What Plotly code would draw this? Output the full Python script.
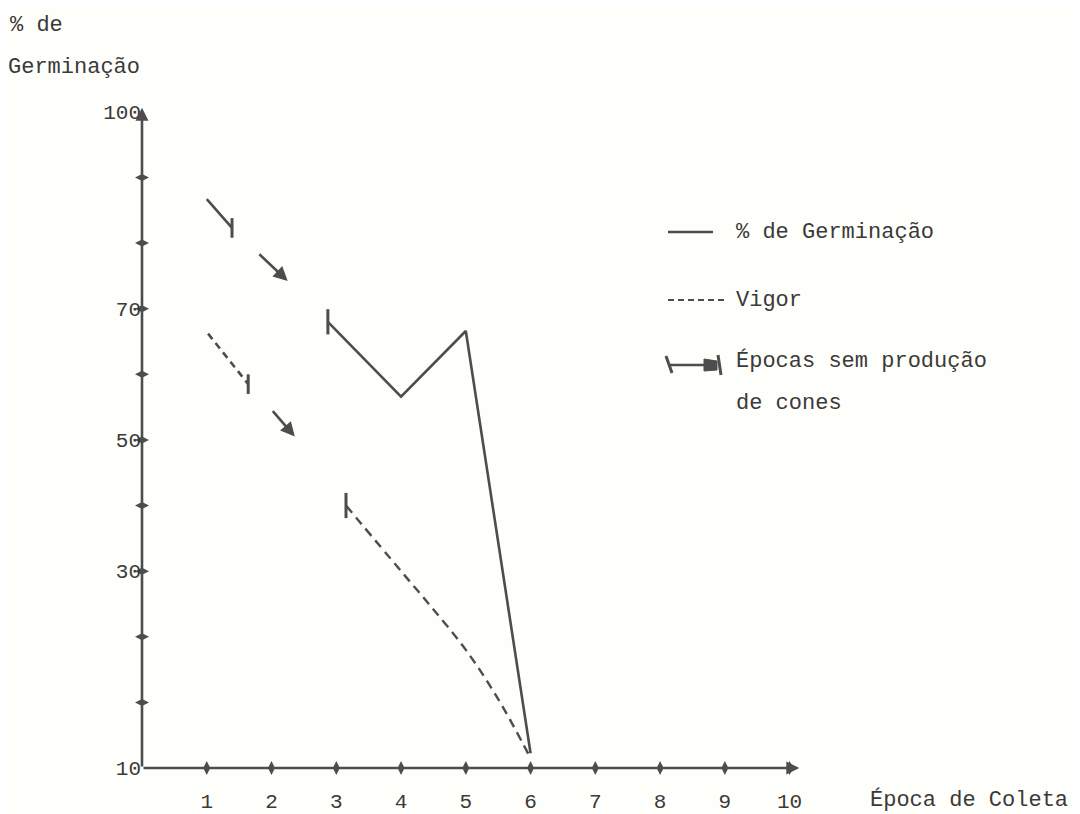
import numpy as np
import plotly.graph_objects as go

# ---------------- data ----------------
# y-axis of the original is not linear: tick label values and their tick index
y_tick_values = [10, 30, 50, 70, 100]
y_tick_index = [0, 3, 5, 7, 10]
y_tick_text = ["10", "30", "50", "70", "100"]

x_ticks = [1, 2, 3, 4, 5, 6, 7, 8, 9, 10]

# % de Germinação (solid line)
germ_epoca = [2.87, 4, 5, 6]
germ_pct = [68, 56.6, 66.6, 11.5]

# Vigor (dashed line)
vigor_epoca = [3.15, 4, 4.45, 5, 5.5, 6]
vigor_pct = [40, 30, 26.5, 22, 17, 11]

# Épocas sem produção de cones : break segments (start -> end)
germ_gap_x0 = [1.0, 1.79]
germ_gap_y0 = [86.7, 78.5]
germ_gap_x1 = [1.39, 2.25]
germ_gap_y1 = [82.3, 74.2]

vigor_gap_x0 = [1.02, 2.0]
vigor_gap_y0 = [66.2, 54.6]
vigor_gap_x1 = [1.64, 2.36]
vigor_gap_y1 = [58.5, 50.5]


def ypos(v):
    return np.interp(v, y_tick_values, y_tick_index)


# ---------------- layout constants ----------------
# page body has an 8px margin at top/left
W, H = 1072, 814
ML, MR, MT, MB = 134, 258, 71, 54
PW, PH = W - ML - MR, H - MT - MB
INK = "#4d4d4d"
TXT = "#3a3a3a"
FONT = "Liberation Mono"
BG = "#fefefa"

# screen-pixel helpers (screen coords of the 1080x814 window)
SX0, SY0 = 142, 768  # screen position of plot-area origin


def PX(x):
    return (x - SX0) / PW


def PY(y):
    return (SY0 - y) / PH


fig = go.Figure()

# main lines
fig.add_trace(go.Scatter(x=germ_epoca, y=ypos(germ_pct), mode="lines",
                         line=dict(color=INK, width=2.6), showlegend=False,
                         hoverinfo="skip"))
fig.add_trace(go.Scatter(x=vigor_epoca, y=ypos(vigor_pct), mode="lines",
                         line=dict(color=INK, width=2.4, dash="9px,6px"),
                         showlegend=False, hoverinfo="skip", line_shape="spline"))

# start bars of lines
fig.add_trace(go.Scatter(x=[germ_epoca[0], vigor_epoca[0]],
                         y=ypos([germ_pct[0], vigor_pct[0]]), mode="markers",
                         marker=dict(symbol="line-ns", size=18,
                                     line=dict(color=INK, width=3)),
                         showlegend=False, hoverinfo="skip"))

# break segments: first segment of each ends with bar, second with arrowhead
fig.add_trace(go.Scatter(x=[germ_gap_x0[0], germ_gap_x1[0]],
                         y=ypos([germ_gap_y0[0], germ_gap_y1[0]]), mode="lines",
                         line=dict(color=INK, width=2.6), showlegend=False,
                         hoverinfo="skip"))
fig.add_trace(go.Scatter(x=[vigor_gap_x0[0], vigor_gap_x1[0]],
                         y=ypos([vigor_gap_y0[0], vigor_gap_y1[0]]), mode="lines",
                         line=dict(color=INK, width=2.6, dash="7px,5px"),
                         showlegend=False, hoverinfo="skip"))
fig.add_trace(go.Scatter(x=[germ_gap_x1[0], vigor_gap_x1[0]],
                         y=ypos([germ_gap_y1[0], vigor_gap_y1[0]]), mode="markers",
                         marker=dict(symbol="line-ns", size=14,
                                     line=dict(color=INK, width=3)),
                         showlegend=False, hoverinfo="skip"))

annotations = []
for x0, y0, x1, y1 in [(germ_gap_x0[1], germ_gap_y0[1], germ_gap_x1[1], germ_gap_y1[1]),
                       (vigor_gap_x0[1], vigor_gap_y0[1], vigor_gap_x1[1], vigor_gap_y1[1])]:
    annotations.append(dict(x=x1, y=float(ypos(y1)), ax=x0, ay=float(ypos(y0)),
                            xref="x", yref="y", axref="x", ayref="y", text="",
                            showarrow=True, arrowhead=2, arrowsize=1.1,
                            arrowwidth=2.6, arrowcolor=INK))

# axes drawn with arrows
annotations.append(dict(x=10.15, y=0, ax=0, ay=0, xref="x", yref="y", axref="x",
                        ayref="y", text="", showarrow=True, arrowhead=2,
                        arrowsize=1, arrowwidth=2.6, arrowcolor=INK))
annotations.append(dict(x=0, y=10.06, ax=0, ay=0, xref="x", yref="y", axref="x",
                        ayref="y", text="", showarrow=True, arrowhead=2,
                        arrowsize=1, arrowwidth=2.6, arrowcolor=INK))

# tick marks on axes
fig.add_trace(go.Scatter(x=x_ticks, y=[0] * len(x_ticks), mode="markers",
                         marker=dict(symbol="diamond-tall", size=10, color=INK),
                         cliponaxis=False, showlegend=False, hoverinfo="skip"))
fig.add_trace(go.Scatter(x=[0] * 9, y=list(range(1, 10)), mode="markers",
                         marker=dict(symbol="diamond-wide", size=10, color=INK),
                         cliponaxis=False, showlegend=False, hoverinfo="skip"))


# texts
def txt(s, x, y, size=22, xanchor="left"):
    annotations.append(dict(text=s, x=PX(x), y=PY(y), xref="paper", yref="paper",
                            xanchor=xanchor, yanchor="middle", showarrow=False,
                            font=dict(family=FONT, size=size, color=TXT)))


txt("% de", 8, 25)
txt("Germinação", 6, 68)
txt("% de Germinação", 734, 232)
txt("Vigor", 734, 300)
txt("Épocas sem produção", 734, 361)
txt("de cones", 734, 403)
txt("Época de Coleta", 868, 800)

# legend samples
shapes = [
    dict(type="line", xref="paper", yref="paper", x0=PX(668), x1=PX(713),
         y0=PY(232), y1=PY(232), line=dict(color=INK, width=2.6)),
    dict(type="line", xref="paper", yref="paper", x0=PX(668), x1=PX(727),
         y0=PY(300), y1=PY(300), line=dict(color=INK, width=2.2, dash="6px,4px")),
    dict(type="line", xref="paper", yref="paper", x0=PX(668), x1=PX(712),
         y0=PY(365), y1=PY(365), line=dict(color=INK, width=2.6)),
    dict(type="line", xref="paper", yref="paper", x0=PX(666), x1=PX(672),
         y0=PY(356), y1=PY(373), line=dict(color=INK, width=3)),
    dict(type="line", xref="paper", yref="paper", x0=PX(718), x1=PX(721),
         y0=PY(355), y1=PY(375), line=dict(color=INK, width=3)),
    dict(type="path", xref="paper", yref="paper",
         path=f"M {PX(704)},{PY(359)} L {PX(717)},{PY(361)} L {PX(717)},{PY(370)} L {PX(704)},{PY(371)} Z",
         fillcolor=INK, line=dict(color=INK, width=1)),
]

fig.update_layout(
    width=W, height=H,
    margin=dict(l=ML, r=MR, t=MT, b=MB, pad=0, autoexpand=False),
    paper_bgcolor=BG, plot_bgcolor=BG,
    showlegend=False,
    annotations=annotations,
    shapes=shapes,
    xaxis=dict(range=[0, 10.5], showgrid=False, zeroline=False, showline=False,
               tickvals=x_ticks, ticktext=[str(t) for t in x_ticks], ticks="",
               ticklabelstandoff=18, automargin=False,
               tickfont=dict(family=FONT, size=21, color=TXT)),
    yaxis=dict(range=[0, 10.5], showgrid=False, zeroline=False, showline=False,
               tickvals=y_tick_index, ticktext=y_tick_text, ticks="",
               ticklabelstandoff=0, automargin=False,
               tickfont=dict(family=FONT, size=21, color=TXT)),
)

fig.write_html("out.html")
